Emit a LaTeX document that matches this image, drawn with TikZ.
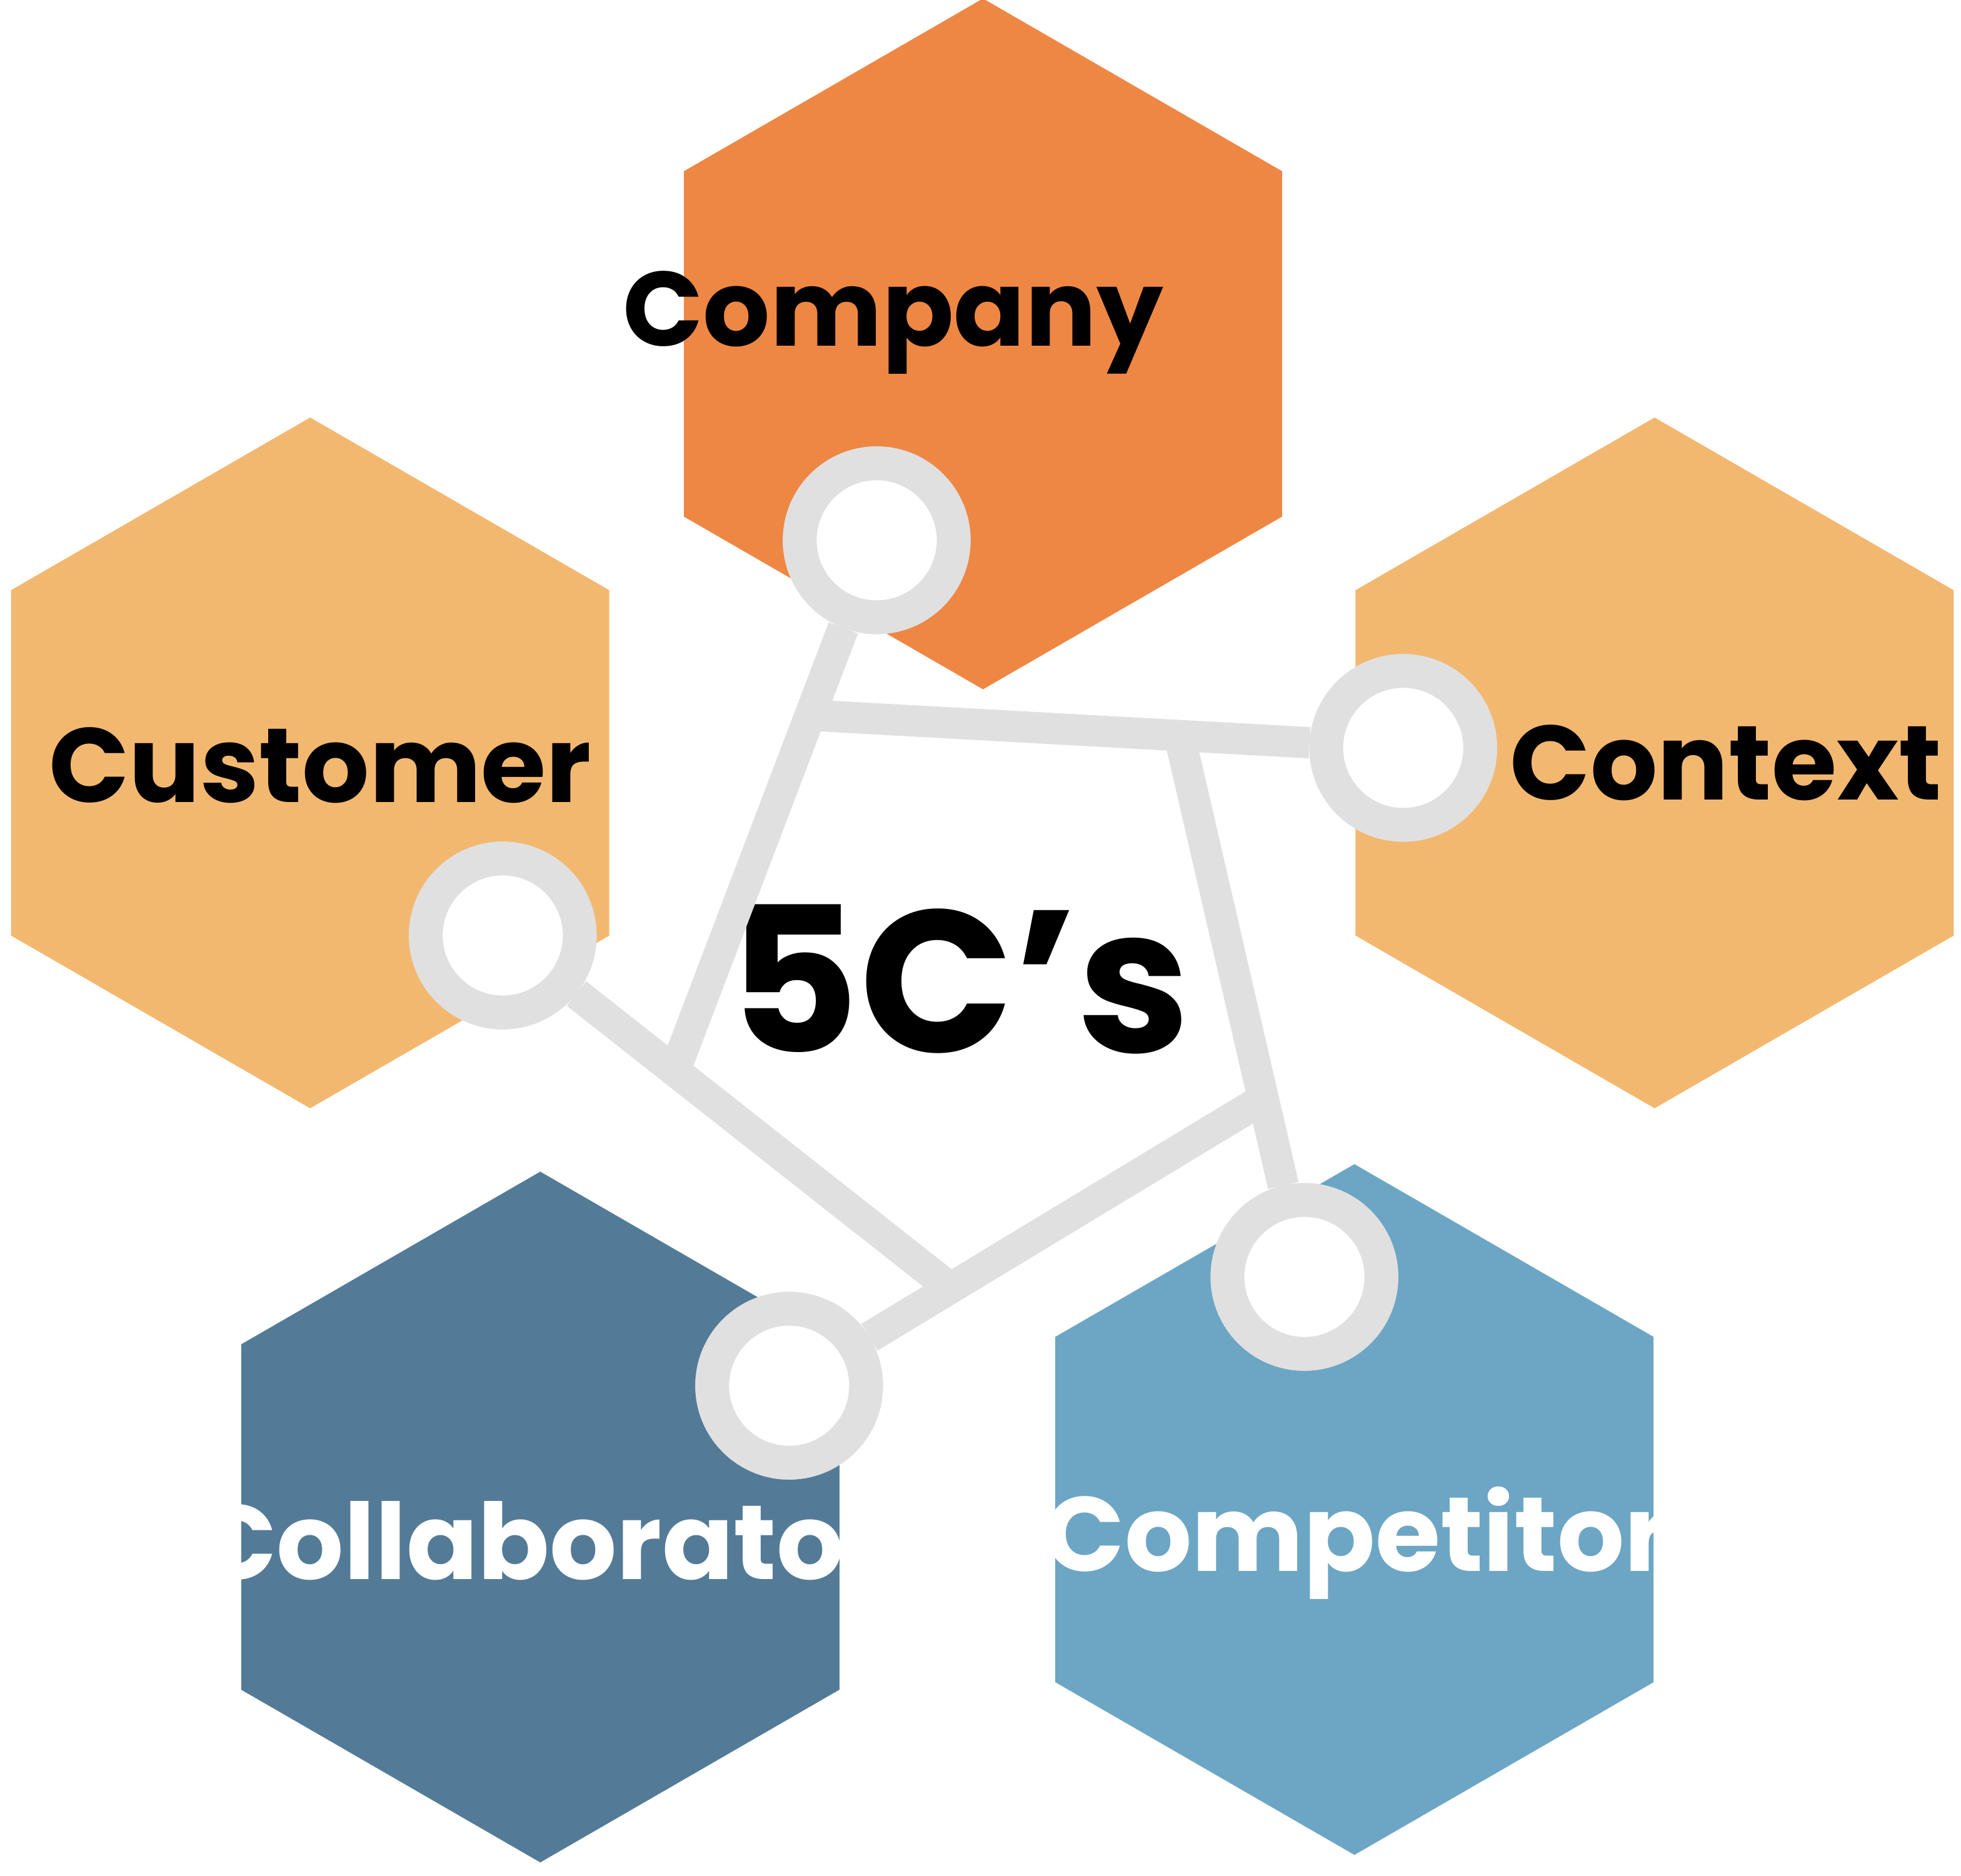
\documentclass[tikz,border=0pt]{standalone}
\usepackage{fontspec}
\setmainfont{Poppins}
\usetikzlibrary{shapes.geometric}
\definecolor{orangeD}{HTML}{EF8744}
\definecolor{orangeL}{HTML}{F3B870}
\definecolor{blueD}{HTML}{537B98}
\definecolor{blueL}{HTML}{6CA6C4}
\definecolor{ringgray}{HTML}{E0E0E0}
\tikzset{
  hexa/.style={regular polygon, regular polygon sides=6, shape border rotate=90,
    inner sep=0pt, outer sep=0pt, minimum size=5.52cm, fill=#1},
  ring/.style={circle, draw=ringgray, line width=0.27cm, fill=white,
    inner sep=0pt, minimum size=1.23cm},
  link/.style={draw=ringgray, line width=0.25cm},
  word/.style={font=\bfseries\fontsize{24}{28}\selectfont, text=#1}
}
\begin{document}
\begin{tikzpicture}[x=0.01cm, y=-0.01cm]
  \useasboundingbox (0,0) rectangle (1568,1500);

  % hexagons
  \node[hexa=orangeD] (hcompany) at (786,275) {};
  \node[hexa=orangeL] (hcustomer) at (248,610) {};
  \node[hexa=orangeL] (hcontext) at (1323,610) {};
  \node[hexa=blueD] (hcollab) at (432,1213) {};
  \node[hexa=blueL] (hcompet) at (1083,1207) {};

  % labels
  \node[word=black] (tcompany) at (714,258) {Company};
  \node[word=black] (tcustomer) at (256,612) {Customer};
  \node[word=black] (tcontext) at (1380,610) {Context};
  \node[word=white] (tcollab) at (434,1232) {Collaborator};
  \node[word=white] (tcompet) at (1085,1234) {Competitor};
  \node[font=\bfseries\fontsize{46}{52}\selectfont] (title) at (767,783) {5C’s};

  % rings
  \node[ring] (rcompany) at (701,432) {};
  \node[ring] (rcontext) at (1122,598) {};
  \node[ring] (rcustomer) at (402,748) {};
  \node[ring] (rcollab) at (631,1108) {};
  \node[ring] (rcompet) at (1043,1021) {};

  % pentagon corners
  \coordinate (ca) at (540,855);
  \coordinate (cb) at (650,572);
  \coordinate (cc) at (943,588);
  \coordinate (cd) at (1008,880);
  \coordinate (ce) at (760,1030);

  \begin{scope}[on background layer/.style={}]
    \draw[link] (rcompany) -- (ca);
    \draw[link] (rcontext) -- (cb);
    \draw[link] (rcompet) -- (cc);
    \draw[link] (rcollab) -- (cd);
    \draw[link] (rcustomer) -- (ce);
  \end{scope}

  % rings again on top of the links
  \foreach \r/\p in {rcompany/{(701,432)}, rcontext/{(1122,598)}, rcustomer/{(402,748)},
                     rcollab/{(631,1108)}, rcompet/{(1043,1021)}}
    \node[ring] at \p {};
\end{tikzpicture}
\end{document}
